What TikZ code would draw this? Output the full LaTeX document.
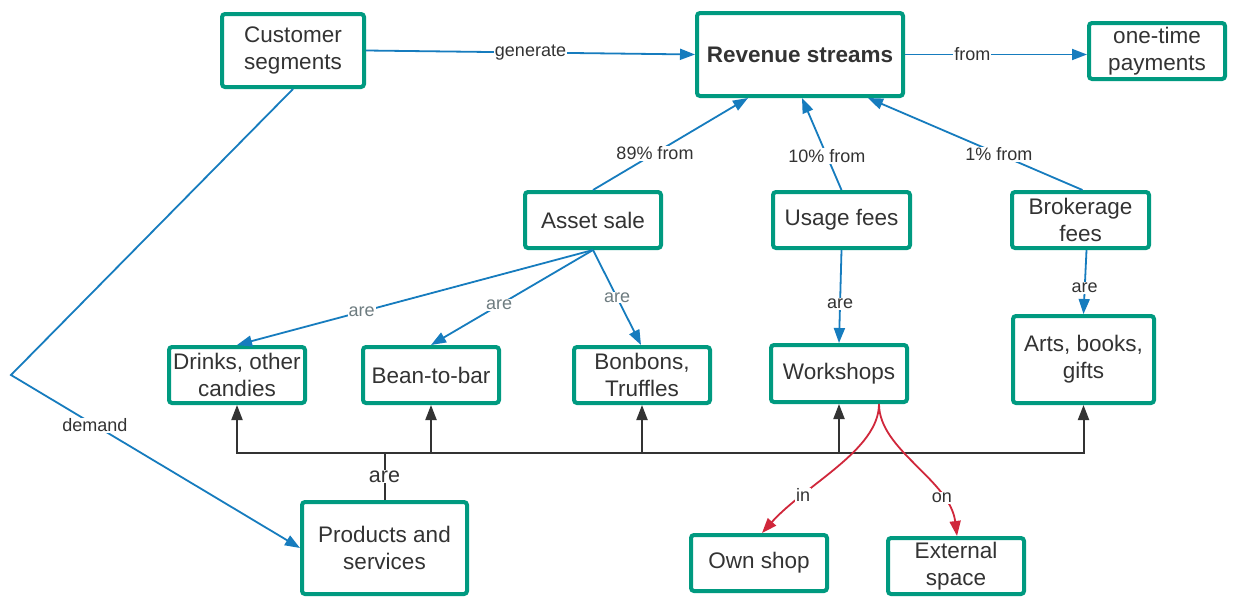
\documentclass[tikz,border=0pt]{standalone}
\usepackage{fontspec}
\setmainfont{Liberation Sans}
\usetikzlibrary{arrows.meta,calc}
\definecolor{boxgreen}{RGB}{0,154,128}
\definecolor{linkblue}{RGB}{22,124,190}
\definecolor{inkgray}{RGB}{51,51,51}
\definecolor{softgray}{RGB}{110,124,128}
\definecolor{linkred}{RGB}{208,39,59}
\begin{document}
\begin{tikzpicture}[x=1pt,y=-1pt,
  conceptbox/.style={draw=boxgreen, line width=4pt, rounded corners=3pt, fill=white,
    text=inkgray, align=center, inner sep=0pt, font=\fontsize{22.5}{27}\selectfont},
  tip/.style={-{Triangle[length=15pt,width=11pt]}},
  bluelink/.style={draw=linkblue, line width=1.8pt, tip},
  buslink/.style={draw=inkgray, line width=2pt},
  redlink/.style={draw=linkred, line width=1.8pt, tip},
  lbl/.style={fill=white, inner sep=1pt, text=inkgray, font=\fontsize{18}{20}\selectfont},
  softlbl/.style={lbl, text=softgray},
  biglbl/.style={fill=white, inner sep=1pt, text=inkgray, font=\fontsize{21.5}{24}\selectfont},
]
\useasboundingbox[fill=white] (0,0) rectangle (1233,597);

% concepts
\node[conceptbox, minimum width=142, minimum height=73] (cust) at (293,50.5) {Customer\\segments};
\node[conceptbox, minimum width=206, minimum height=83, font=\fontsize{22.5}{27}\selectfont\bfseries] (rev) at (800,54.5) {Revenue streams};
\node[conceptbox, minimum width=136, minimum height=56] (once) at (1157,51) {one-time\\payments};
\node[conceptbox, minimum width=136, minimum height=56] (asset) at (593,220) {Asset sale};
\node[conceptbox, minimum width=137, minimum height=56] (usage) at (841.5,220) {Usage fees};
\node[conceptbox, minimum width=137, minimum height=56] (broker) at (1080.5,220) {Brokerage\\fees};
\node[conceptbox, minimum width=136, minimum height=56] (drinks) at (237,375) {Drinks, other\\candies};
\node[conceptbox, minimum width=136, minimum height=56] (bean) at (431,375) {Bean-to-bar};
\node[conceptbox, minimum width=136, minimum height=56] (bonbon) at (642,375) {Bonbons,\\Truffles};
\node[conceptbox, minimum width=136, minimum height=57] (work) at (839,373.5) {Workshops};
\node[conceptbox, minimum width=141, minimum height=87] (arts) at (1083.5,359.5) {Arts, books,\\gifts};
\node[conceptbox, minimum width=165, minimum height=92] (prod) at (384.5,548) {Products and\\services};
\node[conceptbox, minimum width=136, minimum height=56] (shop) at (759,563) {Own shop};
\node[conceptbox, minimum width=136, minimum height=56] (ext) at (956,566) {External\\space};

% revenue links
\draw[bluelink] (cust.east) -- node[lbl]{generate} (rev.west);
\draw[bluelink] (rev.east) -- node[lbl, pos=0.37]{from} ([yshift=-3.5pt]once.west);
\draw[bluelink] (asset.north) -- node[lbl, pos=0.4]{89\% from} ([xshift=-52pt]rev.south);
\draw[bluelink] (usage.north) -- node[lbl, pos=0.37]{10\% from} ([xshift=2pt]rev.south);
\draw[bluelink] ([xshift=2pt]broker.north) -- node[lbl, pos=0.39]{1\% from} ([xshift=68pt]rev.south);

% kinds of asset sale and fees
\draw[bluelink] (asset.south) -- node[softlbl, pos=0.65]{are} (drinks.north);
\draw[bluelink] (asset.south) -- node[softlbl, pos=0.58]{are} (bean.north);
\draw[bluelink] (asset.south) -- node[softlbl, pos=0.5]{are} ([xshift=-1pt]bonbon.north);
\draw[bluelink] (usage.south) -- node[lbl, pos=0.58]{are} (work.north);
\draw[bluelink] ([xshift=6pt]broker.south) -- node[lbl, pos=0.59]{are} (arts.north);

% demand link
\coordinate (bend) at (11,375);
\draw[bluelink] (cust.south) -- (bend) -- node[lbl, pos=0.29]{demand} (prod.west);

% products and services bus
\coordinate (hub) at (384.5,453);
\draw[buslink] (prod.north) -- node[biglbl]{are} (hub);
\draw[buslink, tip] (hub) -| (drinks.south);
\draw[buslink, tip] (hub) -| (bean.south);
\draw[buslink, tip] (hub) -| (bonbon.south);
\draw[buslink, tip] (hub) -| (work.south);
\draw[buslink, tip] (hub) -| (arts.south);

% workshop locations
\coordinate (wkout) at ([xshift=40pt]work.south);
\draw[redlink] (wkout) .. controls (879,450) and (805,485) .. ([xshift=3pt]shop.north)
  node[lbl, pos=0.72]{in};
\draw[redlink] (wkout) .. controls (879,450) and (950,480) .. ([xshift=1pt]ext.north)
  node[lbl, pos=0.75]{on};
\end{tikzpicture}
\end{document}
